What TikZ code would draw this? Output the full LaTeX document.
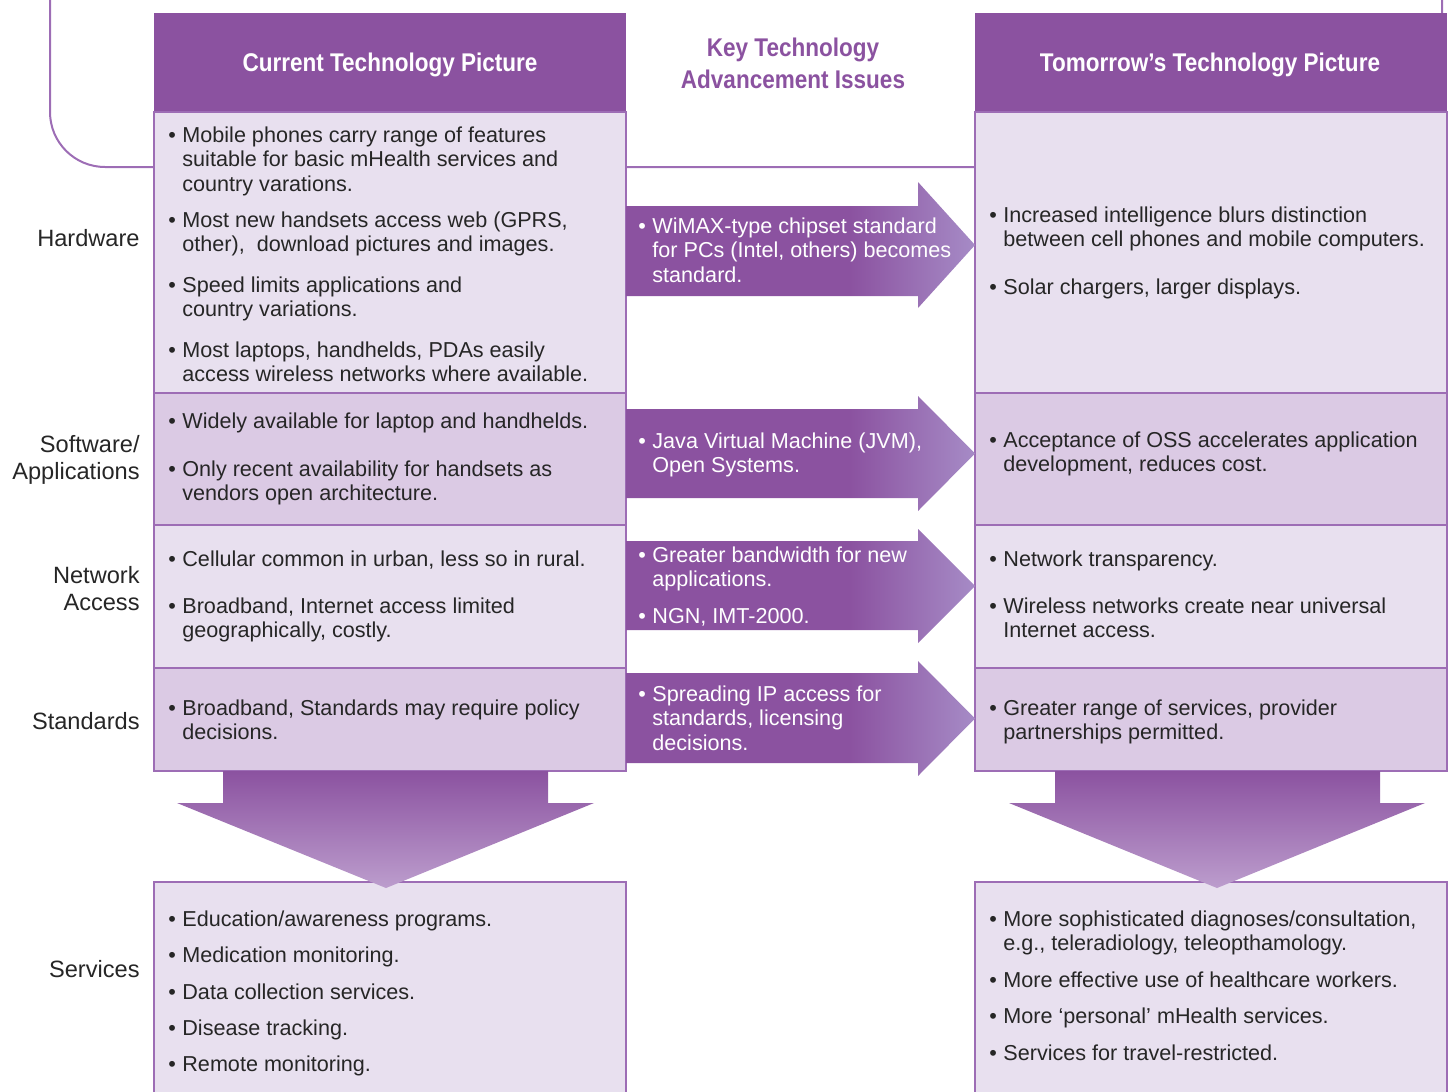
\documentclass[tikz,border=0pt]{standalone}
\usepackage{fontspec}
\setmainfont{Liberation Sans}
\newfontfamily\hdfont[FakeStretch=0.88]{Liberation Sans}
\usepackage{xcolor}
\usepackage{tikz}

\definecolor{hdr}{HTML}{8B52A0}
\definecolor{bdr}{HTML}{9D6DB5}
\definecolor{lite}{HTML}{E8E0EF}
\definecolor{dark}{HTML}{DBCAE4}
\definecolor{tipc}{HTML}{A68BC6}
\definecolor{lowc}{HTML}{BC9DCD}
\definecolor{txt}{HTML}{262626}

\pgfdeclarehorizontalshading{rarrow}{100bp}{color(0bp)=(hdr); color(57bp)=(hdr); color(75bp)=(tipc); color(100bp)=(tipc)}

\tikzset{
	box/.style={draw=bdr, line width=1pt},
	item/.style={anchor=north west, yshift=8.575pt, align=left, inner sep=0pt, text=txt, font=\fontsize{10.8}{12.25}\selectfont},
	witem/.style={item, text=white},
	lbl/.style={anchor=north east, yshift=9.45pt, align=right, inner sep=0pt, text=txt, font=\fontsize{11.8}{13.5}\selectfont},
	head/.style={align=center, inner sep=0pt, font=\hdfont\bfseries\fontsize{12.8}{16}\selectfont},
}
\newcommand{\bl}{\strut\makebox[7pt][l]{\textbullet}}
\newcommand{\ind}{\hspace*{7pt}}

\begin{document}
\begin{tikzpicture}[x=0.5pt,y=-0.5pt]
	\useasboundingbox (0,0) rectangle (1451,1092);
	% frame line behind the columns
	\draw[bdr, line width=1pt] (50,0) -- (50,112) arc[start angle=180, end angle=90, radius=55] -- (1442,167) -- (1442,0);
	% the two columns
	\foreach \x in {154,975}{
		\fill[hdr] (\x,13) rectangle ++(472,99);
		\draw[box, fill=lite] (\x,112) rectangle ++(472,281);
		\draw[box, fill=dark] (\x,393) rectangle ++(472,132);
		\draw[box, fill=lite] (\x,525) rectangle ++(472,143);
		\draw[box, fill=dark] (\x,668) rectangle ++(472,103);
		\draw[box, fill=lite] (\x,882) rectangle ++(472,215);
	}
	% arrows across
	\foreach \sa/\sb/\ha/\hb in {206/296/182/308, 409/498/396/511, 541/630/529/643, 673/763/661/776}
		\shade[shading=rarrow] (626,\sa) -- (918,\sa) -- (918,\ha) -- (975,{(\ha+\hb)/2}) -- (918,\hb) -- (918,\sb) -- (626,\sb) -- cycle;
	% arrows down
	\shade[top color=hdr, bottom color=lowc] (223,771) -- (548,771) -- (548,803) -- (594,803) -- (386,888) -- (177,803) -- (223,803) -- cycle;
	\shade[top color=hdr, bottom color=lowc] (1055,771) -- (1380,771) -- (1380,803) -- (1425,803) -- (1217,888) -- (1009,803) -- (1055,803) -- cycle;

	% headings
	\node[head, text=white] (cur) at (390,65) {Current Technology Picture};
	\node[head, text=white] (tom) at (1210,65) {Tomorrow’s Technology Picture};
	\node[head, text=hdr] (key) at (793,63) {Key Technology\\Advancement Issues};

	% row labels
	\node[lbl] (lhw) at (140,246) {\strut Hardware};
	\node[lbl] (lsw) at (140,452) {\strut Software/\\Applications};
	\node[lbl] (lnet) at (140,583) {\strut Network\\Access};
	\node[lbl] (lstd) at (140,729) {\strut Standards};
	\node[lbl] (lsrv) at (140,977) {\strut Services};

	% current picture
	\node[item] (c1) at (168,142) {\bl Mobile phones carry range of features\\\ind suitable for basic mHealth services and\\\ind country varations.};
	\node[item] (c2) at (168,227) {\bl Most new handsets access web (GPRS,\\\ind other),\ \ download pictures and images.};
	\node[item] (c3) at (168,292) {\bl Speed limits applications and\\\ind country variations.};
	\node[item] (c4) at (168,357) {\bl Most laptops, handhelds, PDAs easily\\\ind access wireless networks where available.};
	\node[item] (c5) at (168,428) {\bl Widely available for laptop and handhelds.};
	\node[item] (c6) at (168,476) {\bl Only recent availability for handsets as\\\ind vendors open architecture.};
	\node[item] (c7) at (168,566) {\bl Cellular common in urban, less so in rural.};
	\node[item] (c8) at (168,613) {\bl Broadband, Internet access limited\\\ind geographically, costly.};
	\node[item] (c9) at (168,715) {\bl Broadband, Standards may require policy\\\ind decisions.};
	\node[item] (c10) at (168,926) {\bl Education/awareness programs.};
	\node[item] (c11) at (168,962) {\bl Medication monitoring.};
	\node[item] (c12) at (168,999) {\bl Data collection services.};
	\node[item] (c13) at (168,1035) {\bl Disease tracking.};
	\node[item] (c14) at (168,1071) {\bl Remote monitoring.};

	% advancement issues
	\node[witem] (k1) at (638,233) {\bl WiMAX-type chipset standard\\\ind for PCs (Intel, others) becomes\\\ind standard.};
	\node[witem] (k2) at (638,448) {\bl Java Virtual Machine (JVM),\\\ind Open Systems.};
	\node[witem] (k3) at (638,562) {\bl Greater bandwidth for new\\\ind applications.};
	\node[witem] (k4) at (638,623) {\bl NGN, IMT-2000.};
	\node[witem] (k5) at (638,701) {\bl Spreading IP access for\\\ind standards, licensing\\\ind decisions.};

	% tomorrow's picture
	\node[item] (t1) at (989,222) {\bl Increased intelligence blurs distinction\\\ind between cell phones and mobile computers.};
	\node[item] (t2) at (989,294) {\bl Solar chargers, larger displays.};
	\node[item] (t3) at (989,447) {\bl Acceptance of OSS accelerates application\\\ind development, reduces cost.};
	\node[item] (t4) at (989,566) {\bl Network transparency.};
	\node[item] (t5) at (989,613) {\bl Wireless networks create near universal\\\ind Internet access.};
	\node[item] (t6) at (989,715) {\bl Greater range of services, provider\\\ind partnerships permitted.};
	\node[item] (t7) at (989,926) {\bl More sophisticated diagnoses/consultation,\\\ind e.g., teleradiology, teleopthamology.};
	\node[item] (t8) at (989,987) {\bl More effective use of healthcare workers.};
	\node[item] (t9) at (989,1023) {\bl More ‘personal’ mHealth services.};
	\node[item] (t10) at (989,1060) {\bl Services for travel-restricted.};
\end{tikzpicture}
\end{document}
